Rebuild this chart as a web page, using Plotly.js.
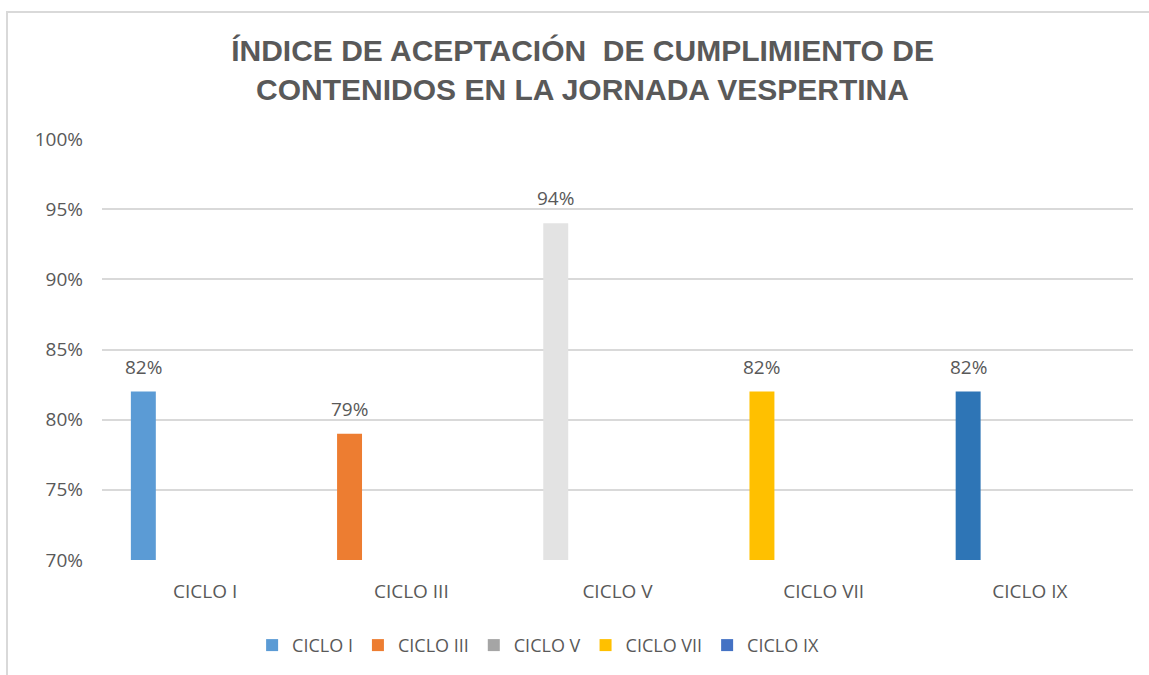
<!DOCTYPE html>
<html>
<head>
<meta charset="utf-8">
<script src="https://cdn.plot.ly/plotly-3.0.1.min.js"></script>
<style>
  html, body { margin: 0; padding: 0; background: #fff; overflow: hidden; }
  #frame { position: absolute; left: 6px; top: 11px; width: 1160px; height: 680px;
           border-left: 2px solid #d9d9d9; border-top: 2px solid #d9d9d9; }
  #chart { position: absolute; left: 0; top: 0; width: 1149px; height: 675px; }
</style>
</head>
<body>
<div id="frame"></div>
<div id="chart"></div>
<script>
const categories = ["CICLO I", "CICLO III", "CICLO V", "CICLO VII", "CICLO IX"];
const seriesNames = ["CICLO I", "CICLO III", "CICLO V", "CICLO VII", "CICLO IX"];
const values = [0.82, 0.79, 0.94, 0.82, 0.82];
const legendColors = ["#5B9BD5", "#ED7D31", "#A5A5A5", "#FFC000", "#4472C4"];
const barColors = ["#5B9BD5", "#ED7D31", "#E3E3E3", "#FFC000", "#2E75B6"];
const yTicks = [0.70, 0.75, 0.80, 0.85, 0.90, 0.95, 1.00];

const txt = "#595959";
const bodyFont = "'Open Sans', Lato, sans-serif";
const BAR_W = 0.121, BAR_OFF = -0.36;

const traces = seriesNames.map((name, i) => ({
  type: "bar",
  name: name,
  x: categories,
  y: categories.map((c, j) => (j === i ? values[i] : null)),
  width: BAR_W,
  offset: BAR_OFF,
  marker: { color: categories.map((c, j) => (j === i ? barColors[i] : legendColors[i])) },
  hoverinfo: "skip"
}));

const labels = values.map((v, j) => ({
  x: j + BAR_OFF + BAR_W / 2, xref: "x",
  y: v, yref: "y",
  text: Math.round(v * 100) + "%",
  showarrow: false,
  yanchor: "bottom", xanchor: "center",
  yshift: 10,
  font: { family: bodyFont, size: 19, color: txt }
}));

const layout = {
  width: 1149, height: 675,
  paper_bgcolor: "rgba(0,0,0,0)", plot_bgcolor: "rgba(0,0,0,0)",
  margin: { l: 102, r: 16, t: 139, b: 114 },
  barmode: "overlay",
  title: {
    text: "ÍNDICE DE ACEPTACIÓN  DE CUMPLIMIENTO DE<br>CONTENIDOS EN LA JORNADA VESPERTINA",
    font: { family: "'Liberation Sans', Arial, sans-serif", size: 30, color: txt, weight: "bold" },
    x: 0.507, xanchor: "center", xref: "container",
    y: 0.91, yanchor: "top", yref: "container"
  },
  xaxis: {
    type: "category",
    showgrid: false, zeroline: false, showline: false, ticks: "",
    tickfont: { family: bodyFont, size: 19, color: txt },
    ticklabelstandoff: 18
  },
  yaxis: {
    range: [0.70, 1.00],
    tickvals: yTicks,
    tickformat: ".0%",
    showgrid: true, gridcolor: "#d9d9d9", gridwidth: 2,
    zeroline: false, showline: false, ticks: "",
    tickfont: { family: bodyFont, size: 19, color: txt },
    ticklabelstandoff: 18
  },
  annotations: labels,
  showlegend: true,
  legend: {
    orientation: "h",
    x: 0.423, xanchor: "center",
    y: -0.20, yanchor: "middle",
    font: { family: bodyFont, size: 18, color: txt },
    itemwidth: 30,
    tracegroupgap: 0
  }
};

Plotly.newPlot("chart", traces, layout, { displayModeBar: false, staticPlot: true });
</script>
</body>
</html>
